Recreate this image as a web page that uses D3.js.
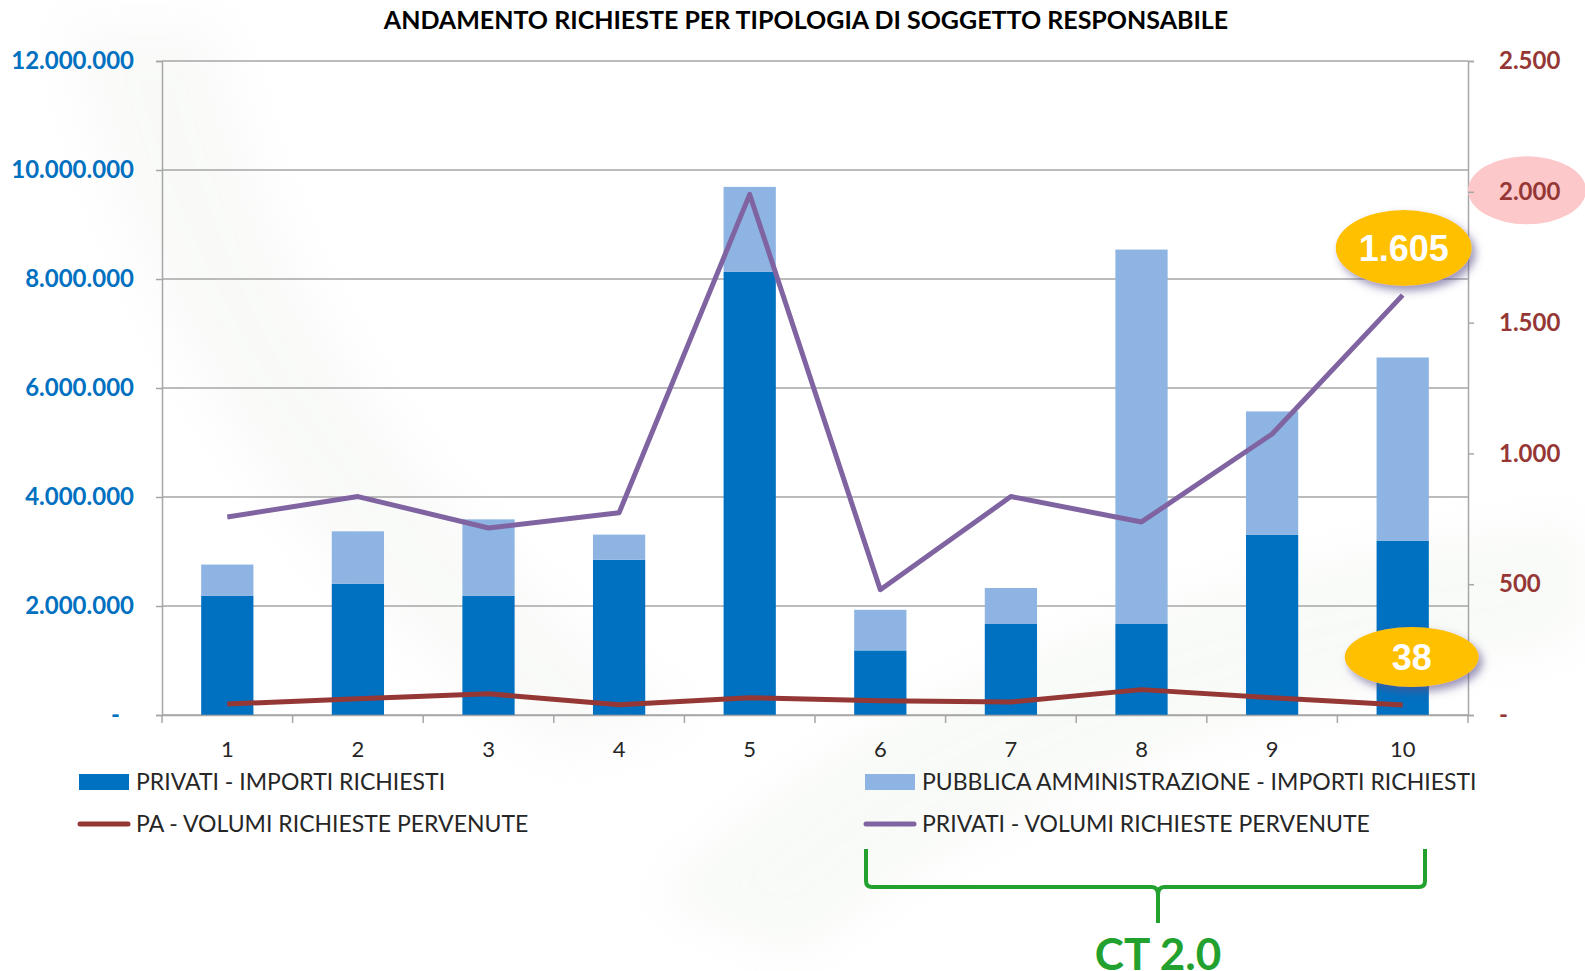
<!DOCTYPE html>
<html>
<head>
<meta charset="utf-8">
<script src="https://cdn.jsdelivr.net/npm/d3@7"></script>
<style>
  body { margin: 0; background: #fff; }
  svg { display: block; font-family: Lato, "Open Sans", sans-serif; }
</style>
</head>
<body>
<svg id="chart" width="1585" height="971"></svg>
<script>
// data
var categories = ['1', '2', '3', '4', '5', '6', '7', '8', '9', '10'];
var privatiImporti = [2185000, 2410000, 2185000, 2850000, 8130000, 1185000, 1670000, 1670000, 3310000, 3200000];
var paImporti = [575000, 960000, 1405000, 460000, 1560000, 745000, 660000, 6870000, 2260000, 3360000];
var paVolumi = [42, 62, 81, 39, 66, 54, 50, 97, 66, 38];
var privatiVolumi = [757, 835, 715, 773, 1990, 479, 835, 738, 1074, 1605];
var leftTicks = [0, 2000000, 4000000, 6000000, 8000000, 10000000, 12000000];
var rightTicks = [0, 500, 1000, 1500, 2000, 2500];

var svg = d3.select('#chart');
var plotLeft = 162, plotRight = 1468, plotTop = 61, plotBottom = 715;

var it = d3.formatLocale({decimal: ',', thousands: '.', grouping: [3], currency: ['€', '']});
var fmt = function (v) { return v === 0 ? '-' : it.format(',')(v); };

// faint background swooshes
var defs = svg.append('defs');
var blur = defs.append('filter').attr('id', 'blur').attr('x', '-20%').attr('y', '-20%').attr('width', '140%').attr('height', '140%');
blur.append('feGaussianBlur').attr('stdDeviation', 25);
var sh = defs.append('filter').attr('id', 'shadow').attr('x', '-30%').attr('y', '-30%').attr('width', '160%').attr('height', '160%');
sh.append('feDropShadow').attr('dx', 4).attr('dy', 5).attr('stdDeviation', 4)
  .attr('flood-color', '#5b4f8a').attr('flood-opacity', 0.6);

var bg = svg.append('g').attr('filter', 'url(#blur)').style('opacity', 0.18);
bg.append('path').attr('d', 'M60,20 C120,300 260,560 560,760 L700,720 C420,520 280,300 220,20 Z').attr('fill', '#dfe6dc');
bg.append('path').attr('d', 'M650,900 C900,650 1250,560 1585,520 L1585,640 C1250,700 950,820 800,960 Z').attr('fill', '#dbe6d5');

var x = d3.scaleBand().domain(categories).range([plotLeft, plotRight]).paddingInner(0.6).paddingOuter(0.3);
var yL = d3.scaleLinear().domain([0, 12000000]).range([plotBottom, plotTop]);
var yR = d3.scaleLinear().domain([0, 2500]).range([plotBottom, plotTop]);

// gridlines
svg.append('g').selectAll('line').data(leftTicks).join('line')
  .attr('x1', plotLeft).attr('x2', plotRight)
  .attr('y1', function (d) { return yL(d); }).attr('y2', function (d) { return yL(d); })
  .attr('stroke', '#a6a6a6').attr('stroke-width', 1.5);

// stacked bars
var stackData = categories.map(function (c, i) { return {cat: c, priv: privatiImporti[i], pa: paImporti[i]}; });
var series = d3.stack().keys(['priv', 'pa'])(stackData);
var barColors = {priv: '#0070c0', pa: '#8db4e2'};
svg.append('g').selectAll('g').data(series).join('g')
  .attr('fill', function (s) { return barColors[s.key]; })
  .selectAll('rect').data(function (s) { return s; }).join('rect')
  .attr('x', function (d) { return x(d.data.cat); })
  .attr('width', x.bandwidth())
  .attr('y', function (d) { return yL(d[1]); })
  .attr('height', function (d) { return yL(d[0]) - yL(d[1]); });

// axes
var axL = svg.append('g').attr('transform', 'translate(' + plotLeft + ',0)')
  .call(d3.axisLeft(yL).tickValues(leftTicks).tickSize(6).tickPadding(22).tickFormat(fmt));
axL.select('.domain').attr('stroke', '#a6a6a6').attr('stroke-width', 1.5);
axL.selectAll('.tick line').attr('stroke', '#a6a6a6').attr('stroke-width', 1.5);
axL.selectAll('text').attr('fill', '#0070c0').style('font-size', '24px').style('font-weight', 'bold')
  .style('font-family', 'Lato, sans-serif');
axL.selectAll('.tick').filter(function (d) { return d === 0; }).select('text').attr('dx', -14);

var axR = svg.append('g').attr('transform', 'translate(' + plotRight + ',0)')
  .call(d3.axisRight(yR).tickValues(rightTicks).tickSize(6).tickPadding(25).tickFormat(fmt));
axR.select('.domain').attr('stroke', '#a6a6a6').attr('stroke-width', 1.5);
axR.selectAll('.tick line').attr('stroke', '#a6a6a6').attr('stroke-width', 1.5);

// pink highlight behind 2.000
axR.selectAll('.tick').filter(function (d) { return d === 2000; })
  .insert('ellipse', ':first-child').attr('cx', 59).attr('cy', -2).attr('rx', 59).attr('ry', 34).attr('fill', '#fcc8ca');
axR.selectAll('text').attr('fill', '#953735').style('font-size', '24px').style('font-weight', 'bold')
  .style('font-family', 'Lato, sans-serif');

var axB = svg.append('g').attr('transform', 'translate(0,' + plotBottom + ')')
  .call(d3.axisBottom(x).tickSize(0).tickPadding(26));
axB.select('.domain').attr('stroke', '#a6a6a6').attr('stroke-width', 1.5);
axB.selectAll('text').attr('fill', '#262626').style('font-size', '22px').style('font-family', 'Lato, sans-serif');
// category boundary ticks
var bounds = d3.range(categories.length + 1).map(function (i) { return plotLeft + i * x.step(); });
svg.append('g').selectAll('line').data(bounds).join('line')
  .attr('x1', function (d) { return d; }).attr('x2', function (d) { return d; })
  .attr('y1', plotBottom).attr('y2', plotBottom + 8)
  .attr('stroke', '#a6a6a6').attr('stroke-width', 1.5);

// lines
var cx = function (d, i) { return x(categories[i]) + x.bandwidth() / 2; };
var line = d3.line().x(cx).y(function (d) { return yR(d); });
svg.append('path').datum(paVolumi).attr('d', line).attr('fill', 'none')
  .attr('stroke', '#953735').attr('stroke-width', 5).attr('stroke-linejoin', 'round');
svg.append('path').datum(privatiVolumi).attr('d', line).attr('fill', 'none')
  .attr('stroke', '#8064a2').attr('stroke-width', 5).attr('stroke-linejoin', 'round');

// title
svg.append('text').attr('x', 806).attr('y', 29).attr('text-anchor', 'middle')
  .style('font-size', '25px').style('font-weight', 'bold').attr('fill', '#000')
  .text('ANDAMENTO RICHIESTE PER TIPOLOGIA DI SOGGETTO RESPONSABILE');

// legend
var legend = [
  {label: 'PRIVATI - IMPORTI RICHIESTI', color: '#0070c0', type: 'rect', x: 79, y: 782},
  {label: 'PUBBLICA AMMINISTRAZIONE - IMPORTI RICHIESTI', color: '#8db4e2', type: 'rect', x: 865, y: 782},
  {label: 'PA - VOLUMI RICHIESTE PERVENUTE', color: '#953735', type: 'line', x: 79, y: 824},
  {label: 'PRIVATI - VOLUMI RICHIESTE PERVENUTE', color: '#8064a2', type: 'line', x: 865, y: 824}
];
var lg = svg.append('g').selectAll('g').data(legend).join('g')
  .attr('transform', function (d) { return 'translate(' + d.x + ',' + d.y + ')'; });
lg.filter(function (d) { return d.type === 'rect'; }).append('rect')
  .attr('x', 0).attr('y', -8).attr('width', 50).attr('height', 16).attr('fill', function (d) { return d.color; });
lg.filter(function (d) { return d.type === 'line'; }).append('line')
  .attr('x1', 1).attr('x2', 49).attr('y1', 0).attr('y2', 0)
  .attr('stroke', function (d) { return d.color; }).attr('stroke-width', 5).attr('stroke-linecap', 'round');
lg.append('text').attr('x', 57).attr('dy', '0.36em').attr('fill', '#262626')
  .style('font-size', '23px').text(function (d) { return d.label; });

// callouts
function callout(i, vals, cxOff, cy, rx, ry, size) {
  var g = svg.append('g');
  var px = cx(null, i) + cxOff;
  g.append('ellipse').attr('cx', px).attr('cy', cy).attr('rx', rx).attr('ry', ry)
    .attr('fill', '#ffc000').attr('filter', 'url(#shadow)');
  g.append('text').attr('x', px).attr('y', cy).attr('dy', '0.36em').attr('text-anchor', 'middle')
    .attr('fill', '#fff').style('font-size', size + 'px').style('font-weight', 'bold')
    .style('font-family', '"Liberation Sans", Arial, sans-serif')
    .text(fmt(vals[i]));
}
callout(9, privatiVolumi, 1, 248, 68, 38, 36);
callout(9, paVolumi, 9, 657, 67, 30, 36);

// CT 2.0 brace
var bx0 = 866, bx1 = 1425, bmid = 1158, btop = 849, bline = 887, btip = 923;
svg.append('path')
  .attr('d', 'M' + bx0 + ',' + btop + ' L' + bx0 + ',' + (bline - 6) + ' Q' + bx0 + ',' + bline + ' ' + (bx0 + 6) + ',' + bline +
    ' L' + (bmid - 6) + ',' + bline + ' Q' + bmid + ',' + bline + ' ' + bmid + ',' + (bline + 8) + ' L' + bmid + ',' + btip +
    ' M' + bmid + ',' + (bline + 8) + ' Q' + bmid + ',' + bline + ' ' + (bmid + 6) + ',' + bline +
    ' L' + (bx1 - 6) + ',' + bline + ' Q' + bx1 + ',' + bline + ' ' + bx1 + ',' + (bline - 6) + ' L' + bx1 + ',' + btop)
  .attr('fill', 'none').attr('stroke', '#22a12e').attr('stroke-width', 4);
svg.append('text').attr('x', bmid).attr('y', 970).attr('text-anchor', 'middle')
  .attr('fill', '#22a12e').style('font-size', '44px').style('font-weight', 'bold').text('CT 2.0');
</script>
</body>
</html>
